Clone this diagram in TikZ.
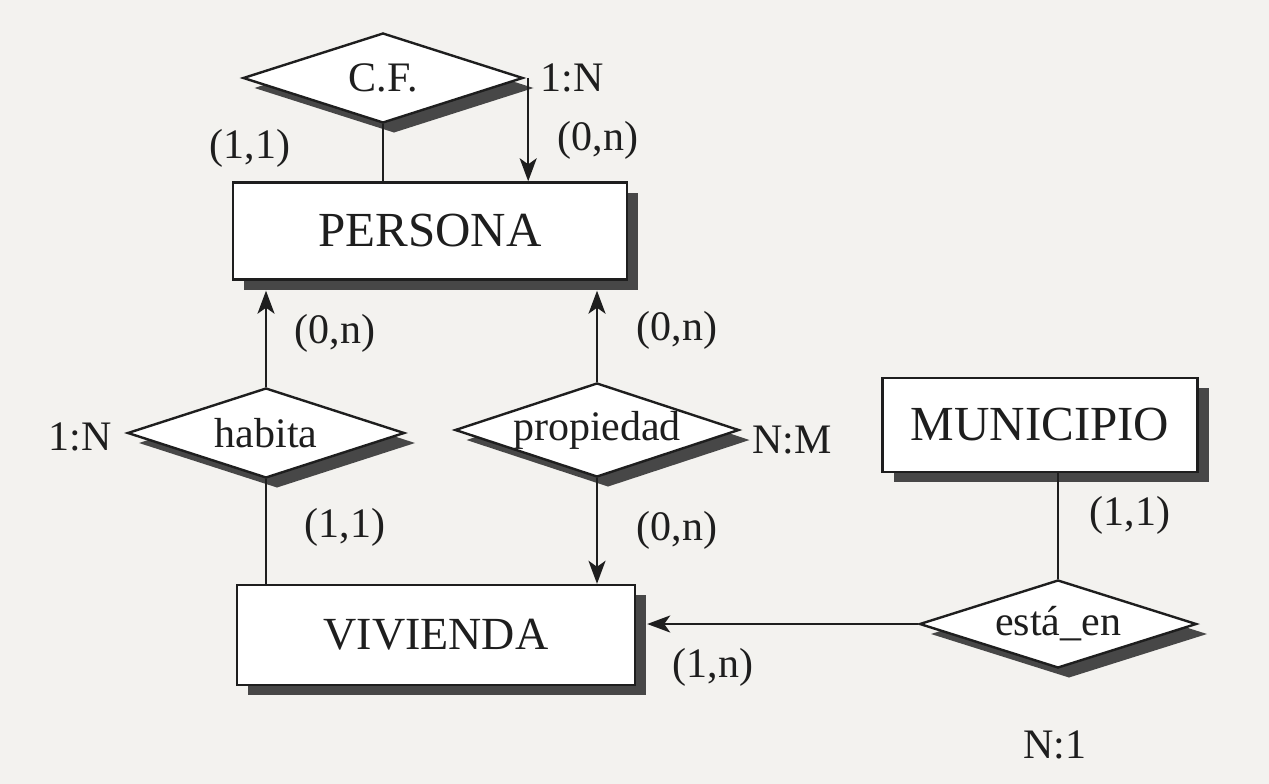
\documentclass[tikz,border=0pt]{standalone}
\usepackage{fontspec}
\setmainfont{Liberation Serif}
\usetikzlibrary{shapes.geometric,shadows,arrows.meta}
\definecolor{paper}{RGB}{243,242,239}
\definecolor{ink}{RGB}{30,30,30}
\tikzset{
  shd/.style={drop shadow={shadow xshift=11pt,shadow yshift=-10pt,fill=black!72,opacity=1}},
  entity/.style={draw=ink,line width=2.4pt,fill=white,shd,rectangle,inner sep=0pt,
     font=\fontsize{49}{53}\selectfont,text=ink},
  rel/.style={draw=ink,line width=2.4pt,fill=white,shd,diamond,aspect=3,inner sep=0pt,
     font=\fontsize{42}{46}\selectfont,text=ink},
  lbl/.style={font=\fontsize{42}{46}\selectfont,text=ink,inner sep=0pt},
  conn/.style={draw=ink,line width=2.4pt},
  arr/.style={conn,-{Stealth[length=23pt,width=17pt,inset=6pt]}}
}
\begin{document}
\begin{tikzpicture}[x=1pt,y=-1pt]
\fill[paper] (0,0) rectangle (1269,784);
\useasboundingbox (0,0) rectangle (1269,784);
% entities
\node[entity,minimum width=394pt,minimum height=97pt] (persona) at (430,231) {PERSONA};
\node[entity,minimum width=398pt,minimum height=100pt,font=\fontsize{46}{50}\selectfont] (vivienda) at (436,635) {VIVIENDA};
\node[entity,minimum width=315pt,minimum height=94pt] (municipio) at (1040,425) {MUNICIPIO};
% relationships
\node[rel,minimum width=280pt,minimum height=90pt] (cf) at (383,78) {C.F.};
\node[rel,minimum width=277pt,minimum height=90pt] (habita) at (266,433) {habita};
\node[rel,minimum width=284pt,minimum height=90pt] (propiedad) at (597,430) {propiedad};
\node[rel,minimum width=277pt,minimum height=88pt] (estaen) at (1058,624) {está\_en};
% connectors
\draw[conn] (cf.south) -- (cf.south |- persona.north);
\coordinate (cfr) at ([xshift=4pt]cf.east);
\draw[arr] (cfr) -- (cfr |- persona.north);
\coordinate (pb1) at ([yshift=-10pt]habita.north |- persona.south);
\coordinate (pb2) at ([yshift=-10pt]propiedad.north |- persona.south);
\draw[arr] (habita.north) -- (pb1);
\draw[conn] (habita.south) -- (habita.south |- vivienda.north);
\draw[arr] (propiedad.north) -- (pb2);
\draw[arr] (propiedad.south) -- (propiedad.south |- vivienda.north);
\draw[conn] (estaen.north |- municipio.south) -- (estaen.north);
\coordinate (ve) at ([xshift=11pt]vivienda.east |- estaen.west);
\draw[arr] (estaen.west) -- (ve);
% labels
\node[lbl] (l1) at (572,78) {1:N};
\node[lbl] (l2) at (598,140) {(0,n)};
\node[lbl] (l3) at (250,148) {(1,1)};
\node[lbl] (l4) at (335,333) {(0,n)};
\node[lbl] (l5) at (677,330) {(0,n)};
\node[lbl] (l6) at (80,437) {1:N};
\node[lbl] (l7) at (792,440) {N:M};
\node[lbl] (l8) at (345,527) {(1,1)};
\node[lbl] (l9) at (677,530) {(0,n)};
\node[lbl] (l10) at (1130,515) {(1,1)};
\node[lbl] (l11) at (713,667) {(1,n)};
\node[lbl] (l12) at (1055,745) {N:1};
\end{tikzpicture}
\end{document}
